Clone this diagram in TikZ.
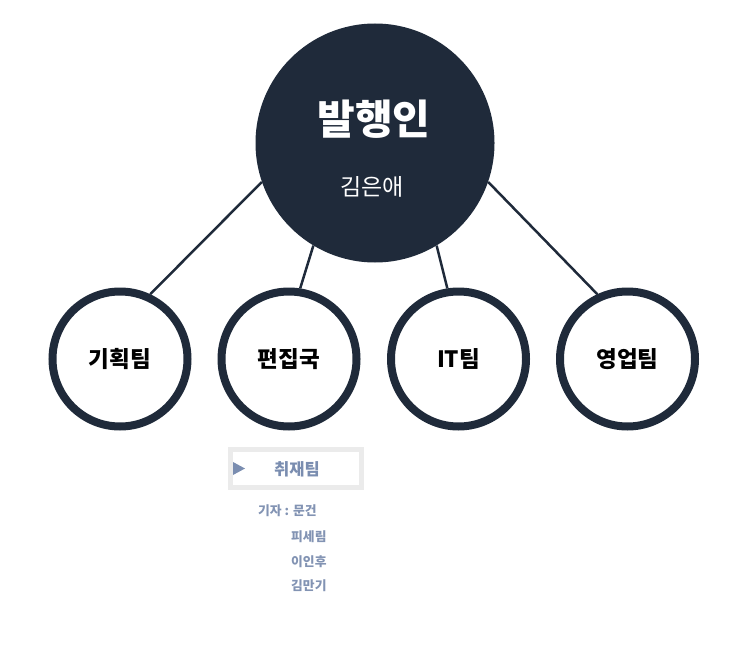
\documentclass[tikz,border=0pt]{standalone}
\usepackage{fontspec}
\setmainfont{Noto Sans CJK KR}
\usetikzlibrary{positioning}
\definecolor{navy}{HTML}{1F2A3A}
\definecolor{slate}{HTML}{7A8DB0}
\definecolor{boxgray}{HTML}{EBEBEB}
\definecolor{staffblue}{HTML}{8293B3}

\begin{document}
\begin{tikzpicture}[x=1pt,y=-1pt,
  team/.style={circle,draw=navy,line width=8pt,minimum size=135pt,inner sep=0pt,
    font=\fontsize{22.5}{22.5}\selectfont\bfseries},
  link/.style={navy,line width=2.5pt},
  staff/.style={anchor=west,inner sep=0pt,text=staffblue,
    font=\fontsize{12.8}{12.8}\selectfont\bfseries}]
\useasboundingbox (0,0) rectangle (749,647);
% publisher
\node[circle,fill=navy,minimum size=239pt,inner sep=0pt] (boss) at (375,143) {};
\node[text=white,font=\fontsize{41}{41}\selectfont\bfseries] (bosstitle) at (374,119) {발행인};
\node[text=white,font=\fontsize{23}{23}\selectfont] (bossname) at (372,187) {김은애};
% teams
\node[team] (plan) at (120,359) {기획팀};
\node[team] (edit) at (289,359) {편집국};
\node[team] (it) at (458.5,359) {IT팀};
\node[team] (sales) at (627.5,359) {영업팀};
\draw[link] (boss.199) -- (plan.65);
\draw[link] (boss.239) -- (edit.81);
\draw[link] (boss.301) -- (it.99);
\draw[link] (boss.341) -- (sales.115);
% news desk
\node[draw=boxgray,line width=5pt,fill=white,minimum width=131pt,minimum height=38pt] (desk) at (296,468.5) {};
\fill[slate] (233,462) -- (245,468.5) -- (233,475) -- cycle;
\node[text=slate,font=\fontsize{16.5}{16.5}\selectfont\bfseries] (desktitle) at (297,469) {취재팀};
\node[staff] (rep1) at (258,511) {기자 : 문건};
\node[staff] (rep2) at (291,537) {피세림};
\node[staff] (rep3) at (291,562) {이인후};
\node[staff] (rep4) at (291,586) {김만기};
\end{tikzpicture}
\end{document}
